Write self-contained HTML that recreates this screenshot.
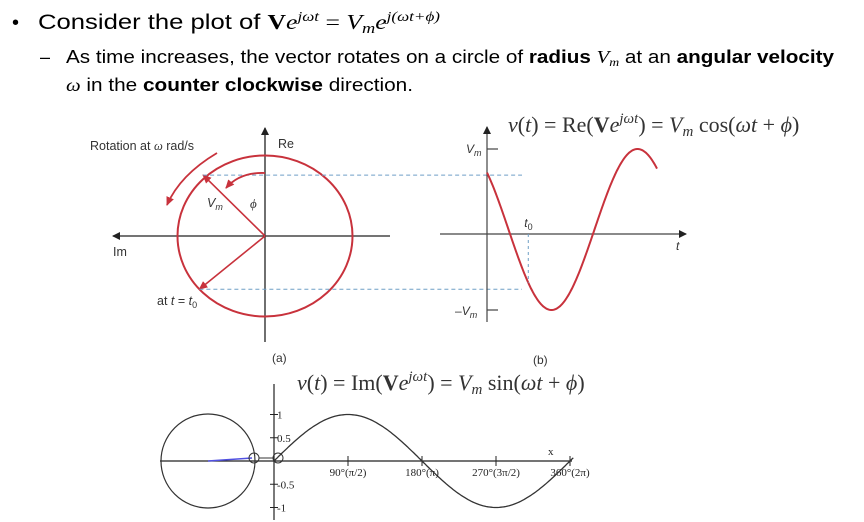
<!DOCTYPE html>
<html><head><meta charset="utf-8"><style>
html,body{margin:0;padding:0;background:#fff;}
svg{display:block;}
text{font-family:"Liberation Sans",sans-serif;}
.m{font-family:"Liberation Serif",serif;}
</style></head><body>
<svg id="s" width="864" height="522" viewBox="0 0 864 522">
<g>
<text x="12" y="29" font-size="20">•</text>
<text x="38" y="29" font-size="21" textLength="402" lengthAdjust="spacingAndGlyphs">Consider the plot of <tspan class="m" font-weight="bold">V</tspan><tspan class="m" font-style="italic">e</tspan><tspan class="m" font-style="italic" font-size="14" dy="-8">jωt</tspan><tspan class="m" dy="8"> = </tspan><tspan class="m" font-style="italic">V</tspan><tspan class="m" font-style="italic" font-size="15" dy="4">m</tspan><tspan class="m" font-style="italic" dy="-4">e</tspan><tspan class="m" font-style="italic" font-size="14" dy="-8">j(ωt+ϕ)</tspan></text>
<text x="40" y="63" font-size="18">–</text>
<text x="66" y="63" font-size="18" textLength="768" lengthAdjust="spacingAndGlyphs">As time increases, the vector rotates on a circle of <tspan font-weight="bold">radius</tspan> <tspan class="m" font-style="italic">V</tspan><tspan class="m" font-style="italic" font-size="12" dy="3">m</tspan><tspan dy="-3"> at an </tspan><tspan font-weight="bold">angular velocity</tspan></text>
<text x="66" y="91" font-size="18" textLength="347" lengthAdjust="spacingAndGlyphs"><tspan class="m" font-style="italic">ω</tspan> in the <tspan font-weight="bold">counter clockwise</tspan> direction.</text>
</g>
<defs>
<marker id="ak" markerWidth="8" markerHeight="8" refX="7" refY="4" orient="auto" markerUnits="userSpaceOnUse"><path d="M0,0 L8,4 L0,8 Z" fill="#222"/></marker>
<marker id="ar" markerWidth="9" markerHeight="9" refX="8" refY="4.5" orient="auto" markerUnits="userSpaceOnUse"><path d="M0,0.5 L9,4.5 L0,8.5 Z" fill="#c8323c"/></marker>
</defs>
<g id="ga"></g>
<g id="gb"></g>
<g id="gc"></g>
</svg>
<script>
// data
const phaseDeg = [45];           // phase angle phi
const cosPeriods = [1.0];        // cycles shown
const t0Frac = [0.24];           // t0 position as fraction of period
const sineTicks = ["90°(π/2)","180°(π)","270°(3π/2)","360°(2π)"];
const sineTickDeg = [90,180,270,360];
const yTickVals = [1,0.5,-0.5,-1];
const yTickLabels = ["1","0.5","-0.5","-1"];

const NS="http://www.w3.org/2000/svg";
function mk(parent,tag,attrs,txt){const e=document.createElementNS(NS,tag);for(const k in attrs)e.setAttribute(k,attrs[k]);if(txt!==undefined)e.textContent=txt;parent.appendChild(e);return e;}
const RED="#c8323c",BLU="#6f9fc6";
const phi=phaseDeg[0]*Math.PI/180;

// ---------- (a) ----------
const ga=document.getElementById('ga');
const cx=265,cy=236,rx=87.5,ry=80.5;
let e;
e=mk(ga,'line',{x1:265,y1:342,x2:265,y2:128,stroke:'#222','stroke-width':1.3,'marker-end':'url(#ak)'});

e=mk(ga,'line',{x1:390,y1:236,x2:113,y2:236,stroke:'#222','stroke-width':1.3,'marker-end':'url(#ak)'});

e=mk(ga,'ellipse',{cx:cx,cy:cy,rx:rx,ry:ry,fill:'none',stroke:RED,'stroke-width':2});

const px=cx-rx*Math.sin(phi), py=cy-ry*Math.cos(phi)-4;
const t0a=phi+2*Math.PI*t0Frac[0];
const qx=cx-rx*Math.sin(t0a), qy=cy-ry*Math.cos(t0a);
e=mk(ga,'line',{x1:cx,y1:cy,x2:px,y2:py,stroke:RED,'stroke-width':1.6,'marker-end':'url(#ar)'});

e=mk(ga,'line',{x1:cx,y1:cy,x2:qx,y2:qy,stroke:RED,'stroke-width':1.6,'marker-end':'url(#ar)'});

e=mk(ga,'line',{x1:px,y1:py,x2:522,y2:py,stroke:BLU,'stroke-width':1,'stroke-dasharray':'4,3'});

e=mk(ga,'line',{x1:qx,y1:qy,x2:522,y2:qy,stroke:BLU,'stroke-width':1,'stroke-dasharray':'4,3'});

e=mk(ga,'path',{d:'M265,173 Q240,172 226,188',fill:'none',stroke:RED,'stroke-width':1.8,'marker-end':'url(#ar)'});

e=mk(ga,'path',{d:'M217,153 Q180,175 167,205',fill:'none',stroke:RED,'stroke-width':1.8,'marker-end':'url(#ar)'});

e=mk(ga,'text',{x:90,y:150,'font-size':12.5,fill:'#333'});e.innerHTML='Rotation at <tspan class="m" font-style="italic">ω</tspan> rad/s';

e=mk(ga,'text',{x:278,y:148,'font-size':12.5,fill:'#333'},'Re');
e=mk(ga,'text',{x:113,y:256,'font-size':12.5,fill:'#333'},'Im');
e=mk(ga,'text',{x:157,y:305,'font-size':12.5,fill:'#333'});e.innerHTML='at <tspan font-style="italic">t</tspan> = <tspan font-style="italic">t</tspan><tspan font-size="9" dy="3">0</tspan>';

e=mk(ga,'text',{x:207,y:207,'font-size':12.5,fill:'#333'});e.innerHTML='<tspan font-style="italic">V</tspan><tspan font-style="italic" font-size="9" dy="3">m</tspan>';

e=mk(ga,'text',{x:250,y:208,'font-size':13,fill:'#333','font-style':'italic',class:'m'},'ϕ');
e=mk(ga,'text',{x:272,y:362,'font-size':12,fill:'#333'},'(a)');

// ---------- (b) ----------
const gb=document.getElementById('gb');
const ox=487,oy=229.5,A=80.5,P=172*cosPeriods[0];
e=mk(gb,'line',{x1:487,y1:322,x2:487,y2:127,stroke:'#444','stroke-width':1.2,'marker-end':'url(#ak)'});

e=mk(gb,'line',{x1:440,y1:234,x2:686,y2:234,stroke:'#444','stroke-width':1.2,'marker-end':'url(#ak)'});

[[oy-A,'vm-tick'],[oy+A,'neg-vm-tick']].forEach(([y,n])=>{e=mk(gb,'line',{x1:487,y1:y,x2:498,y2:y,stroke:'#444','stroke-width':1.2});});
let d='';for(let x=ox;x<=657;x+=1){const y=oy-A*Math.cos(2*Math.PI*(x-ox)/P+phi);d+=(x===ox?'M':'L')+x+','+y.toFixed(1);}
e=mk(gb,'path',{d:d,fill:'none',stroke:RED,'stroke-width':2});
const tx=ox+P*t0Frac[0], ty=oy-A*Math.cos(2*Math.PI*t0Frac[0]+phi);
e=mk(gb,'line',{x1:tx,y1:234,x2:tx,y2:ty,stroke:BLU,'stroke-width':1,'stroke-dasharray':'3,3'});
e=mk(gb,'text',{x:tx-4,y:227,'font-size':12,fill:'#333'});e.innerHTML='<tspan font-style="italic">t</tspan><tspan font-size="9" dy="3">0</tspan>';
e=mk(gb,'text',{x:676,y:250,'font-size':12,fill:'#333','font-style':'italic'},'t');
e=mk(gb,'text',{x:466,y:153,'font-size':12,fill:'#333'});e.innerHTML='<tspan font-style="italic">V</tspan><tspan font-style="italic" font-size="9" dy="3">m</tspan>';
e=mk(gb,'text',{x:455,y:315,'font-size':12,fill:'#333'});e.innerHTML='–<tspan font-style="italic">V</tspan><tspan font-style="italic" font-size="9" dy="3">m</tspan>';
e=mk(gb,'text',{x:533,y:364,'font-size':12,fill:'#333'},'(b)');
e=mk(gb,'text',{x:508,y:132,'font-size':22,fill:'#333',class:'m'});
e.innerHTML='<tspan font-style="italic">v</tspan>(<tspan font-style="italic">t</tspan>) = Re(<tspan font-weight="bold">V</tspan><tspan font-style="italic">e</tspan><tspan font-style="italic" font-size="15" dy="-9">jωt</tspan><tspan dy="9">) = </tspan><tspan font-style="italic">V</tspan><tspan font-style="italic" font-size="15" dy="4">m</tspan><tspan dy="-4"> cos(</tspan><tspan font-style="italic">ωt</tspan> + <tspan font-style="italic">ϕ</tspan>)';


// ---------- sine plot ----------
const gc=document.getElementById('gc');
const sx0=274,sy0=461,sA=46.5,pxPerDeg=74/90;
const X=deg=>sx0+deg*pxPerDeg, Y=v=>sy0-v*sA;
e=mk(gc,'line',{x1:160,y1:sy0,x2:572,y2:sy0,stroke:'#222','stroke-width':1.2});
e=mk(gc,'line',{x1:sx0,y1:384,x2:sx0,y2:520,stroke:'#222','stroke-width':1.2});
yTickVals.forEach((v,i)=>{
 e=mk(gc,'line',{x1:sx0-4,y1:Y(v),x2:sx0+4,y2:Y(v),stroke:'#222','stroke-width':1});
 e=mk(gc,'text',{x:sx0+3,y:Y(v)+4,'font-size':11,fill:'#222',class:'m'},yTickLabels[i]);
});
sineTickDeg.forEach((dg,i)=>{
 e=mk(gc,'line',{x1:X(dg),y1:sy0-5,x2:X(dg),y2:sy0+5,stroke:'#222','stroke-width':1});
 e=mk(gc,'text',{x:X(dg),y:sy0+15,'font-size':11,fill:'#222',class:'m','text-anchor':'middle'},sineTicks[i]);
});
let d2='';for(let dg=0;dg<=364;dg+=2){d2+=(dg===0?'M':'L')+X(dg).toFixed(1)+','+Y(Math.sin(dg*Math.PI/180)).toFixed(1);}
e=mk(gc,'path',{d:d2,fill:'none',stroke:'#333','stroke-width':1.3});
e=mk(gc,'circle',{cx:208,cy:sy0,r:47,fill:'none',stroke:'#333','stroke-width':1.2});
e=mk(gc,'line',{x1:208,y1:sy0,x2:252,y2:sy0-3,stroke:'#5050e0','stroke-width':1.5});
e=mk(gc,'circle',{cx:254,cy:sy0-3,r:5,fill:'none',stroke:'#333','stroke-width':1});
e=mk(gc,'circle',{cx:278,cy:sy0-3,r:5,fill:'none',stroke:'#333','stroke-width':1});
e=mk(gc,'line',{x1:259,y1:sy0-3,x2:273,y2:sy0-3,stroke:'#333','stroke-width':1});
e=mk(gc,'text',{x:548,y:455,'font-size':11,fill:'#222',class:'m'},'x');
e=mk(gc,'text',{x:297,y:390,'font-size':22,fill:'#333',class:'m'});
e.innerHTML='<tspan font-style="italic">v</tspan>(<tspan font-style="italic">t</tspan>) = Im(<tspan font-weight="bold">V</tspan><tspan font-style="italic">e</tspan><tspan font-style="italic" font-size="15" dy="-9">jωt</tspan><tspan dy="9">) = </tspan><tspan font-style="italic">V</tspan><tspan font-style="italic" font-size="15" dy="4">m</tspan><tspan dy="-4"> sin(</tspan><tspan font-style="italic">ωt</tspan> + <tspan font-style="italic">ϕ</tspan>)';

</script>
</body></html>
